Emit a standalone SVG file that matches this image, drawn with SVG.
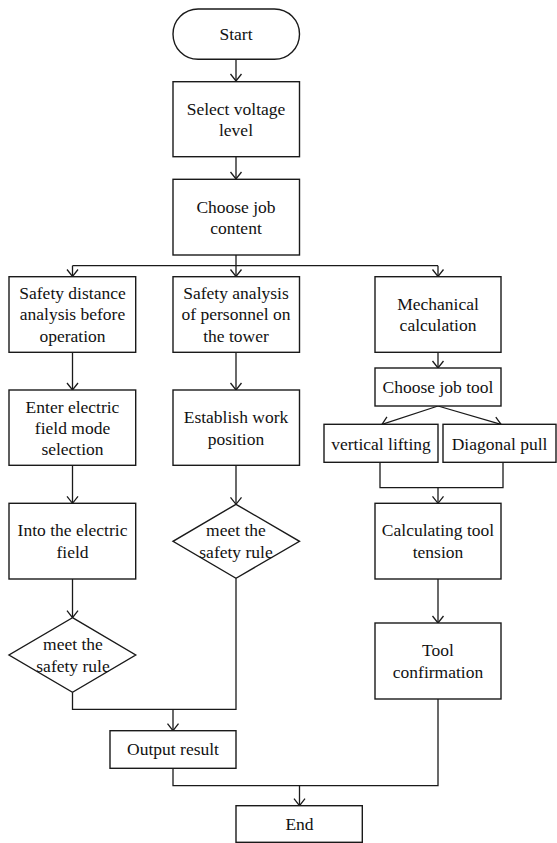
<svg xmlns="http://www.w3.org/2000/svg" width="557" height="843" viewBox="0 0 557 843">
<style>
.box{fill:#fff;stroke:#1a1a1a;stroke-width:1.4}
.t{font-size:17.5px;fill:#111;text-anchor:middle}
.c{fill:none;stroke:#1a1a1a;stroke-width:1.3}
</style>
<defs>
<marker id="ar" markerUnits="userSpaceOnUse" markerWidth="14" markerHeight="14" viewBox="-8 -7 10 14" refX="0" refY="0" orient="auto">
<path d="M-7,-5.5 L0,0 L-7,5.5" fill="none" stroke="#1a1a1a" stroke-width="1.3"/>
</marker>
</defs>
<rect width="557" height="843" fill="#fff"/>
<g id="connectors">
<line class="c" x1="236" y1="59" x2="236" y2="81" marker-end="url(#ar)"/>
<line class="c" x1="236" y1="157" x2="236" y2="179" marker-end="url(#ar)"/>
<line class="c" x1="236" y1="255" x2="236" y2="276.5" marker-end="url(#ar)"/>
<line class="c" x1="72.5" y1="265.7" x2="438" y2="265.7" stroke-width="1"/>
<line class="c" x1="72.5" y1="265.7" x2="72.5" y2="276.5" marker-end="url(#ar)"/>
<line class="c" x1="438" y1="265.7" x2="438" y2="276.5" marker-end="url(#ar)"/>
<line class="c" x1="72.5" y1="352.5" x2="72.5" y2="390" marker-end="url(#ar)"/>
<line class="c" x1="236" y1="352.5" x2="236" y2="390" marker-end="url(#ar)"/>
<line class="c" x1="438" y1="352.5" x2="438" y2="368" marker-end="url(#ar)"/>
<line class="c" x1="438" y1="406" x2="382" y2="424.3" marker-end="url(#ar)"/>
<line class="c" x1="438" y1="406" x2="501" y2="424.3" marker-end="url(#ar)"/>
<polyline class="c" points="380,462.3 380,487.7 503,487.7 503,462.3"/>
<line class="c" x1="438" y1="487.7" x2="438" y2="503.3" marker-end="url(#ar)"/>
<line class="c" x1="72.5" y1="465.3" x2="72.5" y2="503.3" marker-end="url(#ar)"/>
<line class="c" x1="236" y1="465.3" x2="236" y2="504.3" marker-end="url(#ar)"/>
<line class="c" x1="72.5" y1="579" x2="72.5" y2="617.7" marker-end="url(#ar)"/>
<line class="c" x1="438" y1="579" x2="438" y2="623" marker-end="url(#ar)"/>
<polyline class="c" points="72.5,692.3 72.5,709.3 236,709.3 236,578.3"/>
<line class="c" x1="173" y1="709.3" x2="173" y2="730.7" marker-end="url(#ar)"/>
<polyline class="c" points="173,768.3 173,785.7 438,785.7 438,699"/>
<line class="c" x1="299.5" y1="785.7" x2="299.5" y2="805.7" marker-end="url(#ar)"/>
</g>
<g id="nodes" font-family="Liberation Serif, Times New Roman, serif">
<g id="start">
<rect class="box" x="173" y="9" width="126.5" height="50.3" rx="25.1"/>
<text class="t" x="236" y="40">Start</text>
</g>
<g id="select-voltage">
<rect class="box" x="173" y="81.7" width="126.5" height="75"/>
<text class="t" x="236" y="115">Select voltage</text>
<text class="t" x="236" y="136">level</text>
</g>
<g id="choose-content">
<rect class="box" x="173" y="179.3" width="126.5" height="75.7"/>
<text class="t" x="236" y="212.5">Choose job</text>
<text class="t" x="236" y="233.5">content</text>
</g>
<g id="safety-distance">
<rect class="box" x="9" y="276.7" width="126.7" height="75.6"/>
<text class="t" x="72.5" y="298.5">Safety distance</text>
<text class="t" x="72.5" y="320">analysis before</text>
<text class="t" x="72.5" y="341.5">operation</text>
</g>
<g id="safety-personnel">
<rect class="box" x="173" y="276.7" width="126.5" height="75.6"/>
<text class="t" x="236" y="298.5">Safety analysis</text>
<text class="t" x="236" y="320">of personnel on</text>
<text class="t" x="236" y="341.5">the tower</text>
</g>
<g id="mechanical">
<rect class="box" x="375" y="276.7" width="126" height="75.6"/>
<text class="t" x="438" y="310">Mechanical</text>
<text class="t" x="438" y="331">calculation</text>
</g>
<g id="choose-tool">
<rect class="box" x="375" y="368" width="126" height="38"/>
<text class="t" x="438" y="393">Choose job tool</text>
</g>
<g id="vertical-lifting">
<rect class="box" x="324" y="424.3" width="114" height="38"/>
<text class="t" x="381" y="449.5">vertical lifting</text>
</g>
<g id="diagonal-pull">
<rect class="box" x="443" y="424.3" width="113" height="38"/>
<text class="t" x="499.5" y="449.5">Diagonal pull</text>
</g>
<g id="enter-field">
<rect class="box" x="9" y="390" width="126.7" height="75.3"/>
<text class="t" x="72.5" y="412.5">Enter electric</text>
<text class="t" x="72.5" y="433.5">field mode</text>
<text class="t" x="72.5" y="455">selection</text>
</g>
<g id="establish-position">
<rect class="box" x="173" y="390" width="126.5" height="75.3"/>
<text class="t" x="236" y="423">Establish work</text>
<text class="t" x="236" y="444.5">position</text>
</g>
<g id="into-field">
<rect class="box" x="9" y="503.3" width="126.7" height="75.7"/>
<text class="t" x="72.5" y="536">Into the electric</text>
<text class="t" x="72.5" y="557.5">field</text>
</g>
<g id="safety-rule-2">
<polygon class="box" points="236,504.3 299.5,541.3 236,578.3 173,541.3"/>
<text class="t" x="236" y="536">meet the</text>
<text class="t" x="236" y="557.5">safety rule</text>
</g>
<g id="calc-tension">
<rect class="box" x="375" y="503.3" width="126" height="75.7"/>
<text class="t" x="438" y="536">Calculating tool</text>
<text class="t" x="438" y="557.5">tension</text>
</g>
<g id="safety-rule-1">
<polygon class="box" points="72.5,617.7 135.7,655 72.5,692.3 9,655"/>
<text class="t" x="73" y="650">meet the</text>
<text class="t" x="73" y="671.5">safety rule</text>
</g>
<g id="tool-confirmation">
<rect class="box" x="375" y="623" width="126" height="76"/>
<text class="t" x="438" y="656">Tool</text>
<text class="t" x="438" y="677.5">confirmation</text>
</g>
<g id="output-result">
<rect class="box" x="110" y="730.7" width="126" height="37.6"/>
<text class="t" x="173" y="755">Output result</text>
</g>
<g id="end">
<rect class="box" x="236" y="805.7" width="126.3" height="36.6"/>
<text class="t" x="299.5" y="830">End</text>
</g>
</g>
</svg>
